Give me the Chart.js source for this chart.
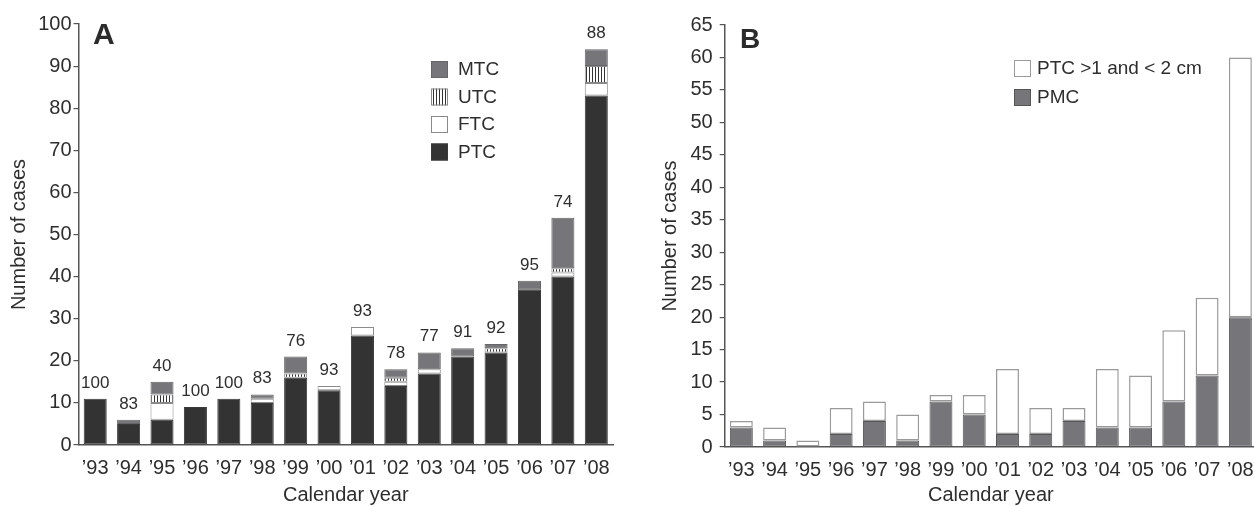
<!DOCTYPE html>
<html>
<head>
<meta charset="utf-8">
<script src="https://cdn.jsdelivr.net/npm/chart.js@4.4.1/dist/chart.umd.min.js"></script>
<style>
html, body { margin: 0; padding: 0; background: #fff; overflow: hidden; }
.panel { position: absolute; top: 0; height: 507px; }
#wrapA { left: 0; width: 630px; }
#wrapB { left: 630px; width: 630px; }
</style>
</head>
<body>
<div class="panel" id="wrapA"><canvas id="chartA"></canvas></div>
<div class="panel" id="wrapB"><canvas id="chartB"></canvas></div>
<script>
// Data
const years = ['’93', '’94', '’95', '’96', '’97', '’98', '’99', '’00', '’01', '’02', '’03', '’04', '’05', '’06', '’07', '’08'];

// Panel A - cancers by type
const ptcA = [11, 5, 6, 9, 11, 10, 16, 13, 26, 14, 17, 21, 22, 37, 40, 83];
const ftcA = [0, 0, 4, 0, 0, 1, 0, 1, 2, 1, 1, 0, 0, 0, 1, 3];
const utcA = [0, 0, 2, 0, 0, 0, 1, 0, 0, 1, 0, 0, 1, 0, 1, 4];
const mtcA = [0, 1, 3, 0, 0, 1, 4, 0, 0, 2, 4, 2, 1, 2, 12, 4];
const pctLabels = ['100', '83', '40', '100', '100', '83', '76', '93', '93', '78', '77', '91', '92', '95', '74', '88'];

// Panel B - PMC vs PTC 1-2 cm
const pmcB = [3, 1, 0, 2, 4, 1, 7, 5, 2, 2, 4, 3, 3, 7, 11, 20];
const ptcSmallB = [1, 2, 1, 4, 3, 4, 1, 3, 10, 4, 2, 9, 8, 11, 12, 40];

const FONT = '"Liberation Sans", Arial, sans-serif';
const TXT = '#2e2e2e';
const DARK = '#333333';
const MID = '#75757a';

Chart.defaults.font.family = FONT;
Chart.defaults.color = TXT;

function hatch() {
    const c = document.createElement('canvas');
    c.width = 3; c.height = 4;
    const g = c.getContext('2d');
    g.fillStyle = '#fff';
    g.fillRect(0, 0, 3, 4);
    g.fillStyle = '#333';
    g.fillRect(1, 0, 1, 4);
    return g.createPattern(c, 'repeat');
}

// letter, in-plot legend and labels above the stacks
const decor = {
    id: 'decor',
    afterDatasetsDraw(chart, args, o) {
        const ctx = chart.ctx;
        ctx.save();
        ctx.fillStyle = '#2b2b2b';
        ctx.font = `bold ${o.letterSize}px ${FONT}`;
        ctx.textBaseline = 'alphabetic';
        ctx.textAlign = 'left';
        ctx.fillText(o.letter, o.letterX, o.letterY);

        const items = chart.data.datasets.slice().reverse();
        ctx.font = `19px ${FONT}`;
        ctx.textBaseline = 'middle';
        items.forEach((ds, i) => {
            const y = o.legendY + i * o.legendGap;
            ctx.fillStyle = ds.backgroundColor;
            ctx.fillRect(o.legendX, y, 17, 17);
            ctx.strokeStyle = ds.legendStroke || ds.borderColor;
            ctx.lineWidth = 1;
            ctx.strokeRect(o.legendX + 0.5, y + 0.5, 16, 16);
            ctx.fillStyle = TXT;
            ctx.fillText(ds.label, o.legendX + o.textOffset, y + 9);
        });

        if (o.topLabels) {
            const top = chart.getDatasetMeta(chart.data.datasets.length - 1);
            ctx.font = `17px ${FONT}`;
            ctx.textAlign = 'center';
            ctx.textBaseline = 'alphabetic';
            ctx.fillStyle = TXT;
            top.data.forEach((bar, i) => {
                ctx.fillText(o.topLabels[i], bar.x, bar.y - 11);
            });
        }
        ctx.restore();
    }
};

function makeOptions(max, yWidth, xHeight, padding, labelEvery, yPad, decorOpts) {
    return {
        responsive: true,
        maintainAspectRatio: false,
        animation: false,
        layout: { padding: padding },
        datasets: { bar: { categoryPercentage: 1, barPercentage: 0.69, borderSkipped: false } },
        scales: {
            x: {
                stacked: true,
                grid: { display: false },
                border: { display: true, color: '#555', width: 1.5 },
                ticks: { font: { size: 20 }, padding: 3, maxRotation: 0, autoSkip: false, color: TXT },
                title: { display: true, text: 'Calendar year', font: { size: 20 }, color: TXT, padding: { top: 0, bottom: 0 } },
                afterFit: s => { s.height = xHeight; }
            },
            y: {
                stacked: true,
                min: 0,
                max: max,
                grid: { display: true, drawOnChartArea: false, drawTicks: true, tickLength: 5, color: '#555', lineWidth: 1.2 },
                border: { display: true, color: '#555', width: 1.5 },
                ticks: {
                    stepSize: 5,
                    padding: yPad,
                    font: { size: 20 },
                    color: TXT,
                    callback: v => (v % labelEvery === 0 ? v : '')
                },
                title: { display: true, text: 'Number of cases', font: { size: 20 }, color: TXT, padding: { top: 0, bottom: 0 } },
                afterFit: s => { s.width = yWidth; }
            }
        },
        plugins: {
            legend: { display: false },
            tooltip: { enabled: false },
            decor: decorOpts
        }
    };
}

new Chart(document.getElementById('chartA'), {
    type: 'bar',
    data: {
        labels: years,
        datasets: [
            { label: 'PTC', data: ptcA, backgroundColor: DARK, borderColor: '#3a3a3a', borderWidth: 1 },
            { label: 'FTC', data: ftcA, backgroundColor: '#ffffff', borderColor: '#8a8a8a', borderWidth: 1 },
            { label: 'UTC', data: utcA, backgroundColor: hatch(), borderColor: '#8a8a8a', legendStroke: '#8a8a8a', borderWidth: 1 },
            { label: 'MTC', data: mtcA, backgroundColor: MID, borderColor: '#666', borderWidth: 1 }
        ]
    },
    options: makeOptions(100, 71.5, 62, { left: 7, right: 17, top: 24, bottom: 0 }, 10, 2, {
        letter: 'A', letterSize: 30, letterX: 93, letterY: 43.5,
        legendX: 431, legendY: 61, legendGap: 27.5, textOffset: 27,
        topLabels: pctLabels
    }),
    plugins: [decor]
});

new Chart(document.getElementById('chartB'), {
    type: 'bar',
    data: {
        labels: years,
        datasets: [
            { label: 'PMC', data: pmcB, backgroundColor: MID, borderColor: '#555', borderWidth: 1 },
            { label: 'PTC >1 and < 2 cm', data: ptcSmallB, backgroundColor: '#ffffff', borderColor: '#9a9a9a', borderWidth: 1.5 }
        ]
    },
    options: makeOptions(65, 66.7, 60, { left: 28, right: 3, top: 25, bottom: 0 }, 5, 7, {
        letter: 'B', letterSize: 28, letterX: 110, letterY: 47.7,
        legendX: 384, legendY: 60, legendGap: 29, textOffset: 23
    }),
    plugins: [decor]
});
</script>
</body>
</html>
